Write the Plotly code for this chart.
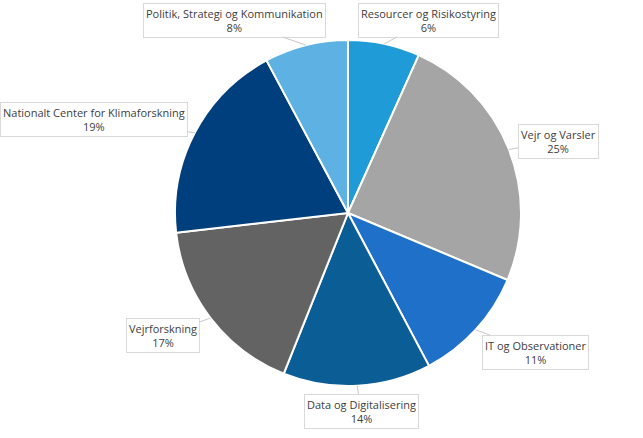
import math
import plotly.graph_objects as go

W, H = 643, 438

categories = ["Resourcer og Risikostyring", "Vejr og Varsler", "IT og Observationer",
              "Data og Digitalisering", "Vejrforskning",
              "Nationalt Center for Klimaforskning", "Politik, Strategi og Kommunikation"]
values = [6.7, 24.6, 10.9, 13.8, 17.1, 19.0, 7.8]
pct_labels = ["6%", "25%", "11%", "14%", "17%", "19%", "8%"]
colors = ["#1F9BD8", "#A5A5A5", "#1E70C9", "#0B5D96", "#636363", "#003F7E", "#5DB1E3"]

# label box centres (pixels) as laid out in the reference
label_px = [(429, 20), (558, 141), (535, 352), (361, 411), (163, 335), (94, 120), (234, 20)]

cx, cy, R = 348, 213, 173
dom_x = [(cx - R) / W, (cx + R) / W]
dom_y = [1 - (cy + R) / H, 1 - (cy - R) / H]

fig = go.Figure(go.Pie(
    labels=categories, values=values, sort=False, direction="clockwise", rotation=0,
    marker=dict(colors=colors, line=dict(color="white", width=2)),
    textinfo="none", hoverinfo="label+percent", showlegend=False,
    domain=dict(x=dom_x, y=dom_y),
))

total = sum(values)
cum = 0.0
annotations = []
for cat, v, p, (lx, ly) in zip(categories, values, pct_labels, label_px):
    mid = (cum + v / 2) / total * 2 * math.pi
    cum += v
    tx = cx + R * math.sin(mid)
    ty = cy - R * math.cos(mid)
    annotations.append(dict(
        x=tx / W, y=1 - ty / H, xref="paper", yref="paper",
        ax=lx - tx, ay=ly - ty, axref="pixel", ayref="pixel",
        text=f"{cat}<br>{p}", showarrow=True, arrowhead=0, arrowwidth=1,
        arrowcolor="#C8C8C8", standoff=0,
        font=dict(family="Open Sans", size=11, color="#404040"),
        bgcolor="white", bordercolor="#D9D9D9", borderwidth=1, borderpad=2,
        align="center",
    ))

fig.update_layout(
    width=W, height=H, margin=dict(l=0, r=0, t=0, b=0),
    paper_bgcolor="white", plot_bgcolor="white",
    annotations=annotations,
)

fig.write_html("out.html", config={"displayModeBar": False},
               post_script="document.body.style.margin='0';document.body.style.overflow='hidden';")
